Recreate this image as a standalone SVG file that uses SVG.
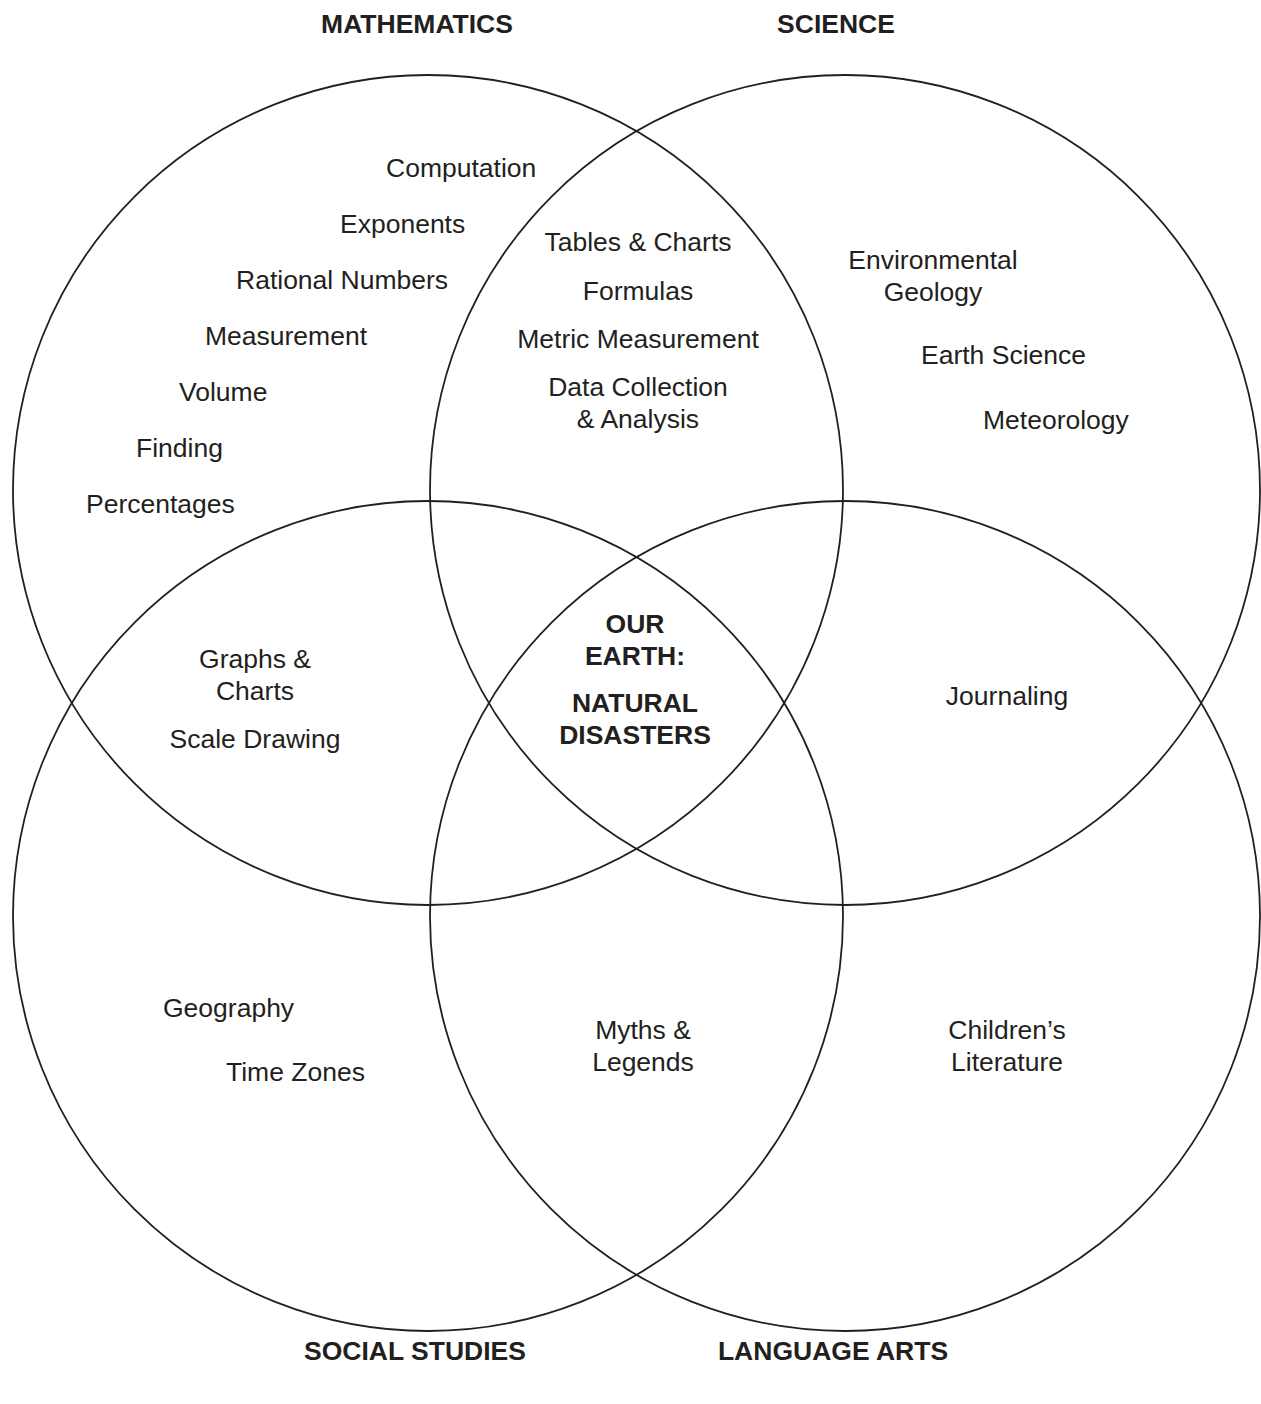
<svg xmlns="http://www.w3.org/2000/svg" width="1261" height="1404" viewBox="0 0 1261 1404">
<style>
.c{fill:none;stroke:#231f20;stroke-width:1.8}
text{font-family:"Liberation Sans",Arial,Helvetica,sans-serif;font-size:26.5px;fill:#231f20}
.h{font-weight:bold}
.m{text-anchor:middle}
</style>
<rect width="1261" height="1404" fill="#fff"/>
<g id="connectors"></g>
<g id="math"><circle class="c" cx="428" cy="490" r="415"/><text class="h m" x="417" y="33">MATHEMATICS</text>
<text x="386" y="177">Computation</text>
<text x="340" y="233">Exponents</text>
<text x="236" y="289">Rational Numbers</text>
<text x="205" y="345">Measurement</text>
<text x="179" y="401">Volume</text>
<text x="136" y="457">Finding</text>
<text x="86" y="513">Percentages</text></g>
<g id="science"><circle class="c" cx="845" cy="490" r="415"/><text class="h m" x="836" y="33">SCIENCE</text>
<text class="m" x="933" y="269">Environmental</text>
<text class="m" x="933" y="301">Geology</text>
<text x="921" y="364">Earth Science</text>
<text x="983" y="429">Meteorology</text></g>
<g id="social"><circle class="c" cx="428" cy="916" r="415"/><text class="h m" x="415" y="1360">SOCIAL STUDIES</text>
<text x="163" y="1017">Geography</text>
<text x="226" y="1081">Time Zones</text></g>
<g id="language"><circle class="c" cx="845" cy="916" r="415"/><text class="h m" x="833" y="1360">LANGUAGE ARTS</text>
<text class="m" x="1007" y="1039">Children’s</text>
<text class="m" x="1007" y="1071">Literature</text></g>
<g id="math-science"><text class="m" x="638" y="251">Tables &amp; Charts</text>
<text class="m" x="638" y="300">Formulas</text>
<text class="m" x="638" y="348">Metric Measurement</text>
<text class="m" x="638" y="396">Data Collection</text>
<text class="m" x="638" y="428">&amp; Analysis</text></g>
<g id="math-social"><text class="m" x="255" y="668">Graphs &amp;</text>
<text class="m" x="255" y="700">Charts</text>
<text class="m" x="255" y="748">Scale Drawing</text></g>
<g id="science-language"><text class="m" x="1007" y="705">Journaling</text></g>
<g id="social-language"><text class="m" x="643" y="1039">Myths &amp;</text>
<text class="m" x="643" y="1071">Legends</text></g>
<g id="center"><text class="h m" x="635" y="633">OUR</text>
<text class="h m" x="635" y="665">EARTH:</text>
<text class="h m" x="635" y="712">NATURAL</text>
<text class="h m" x="635" y="744">DISASTERS</text></g>
</svg>
